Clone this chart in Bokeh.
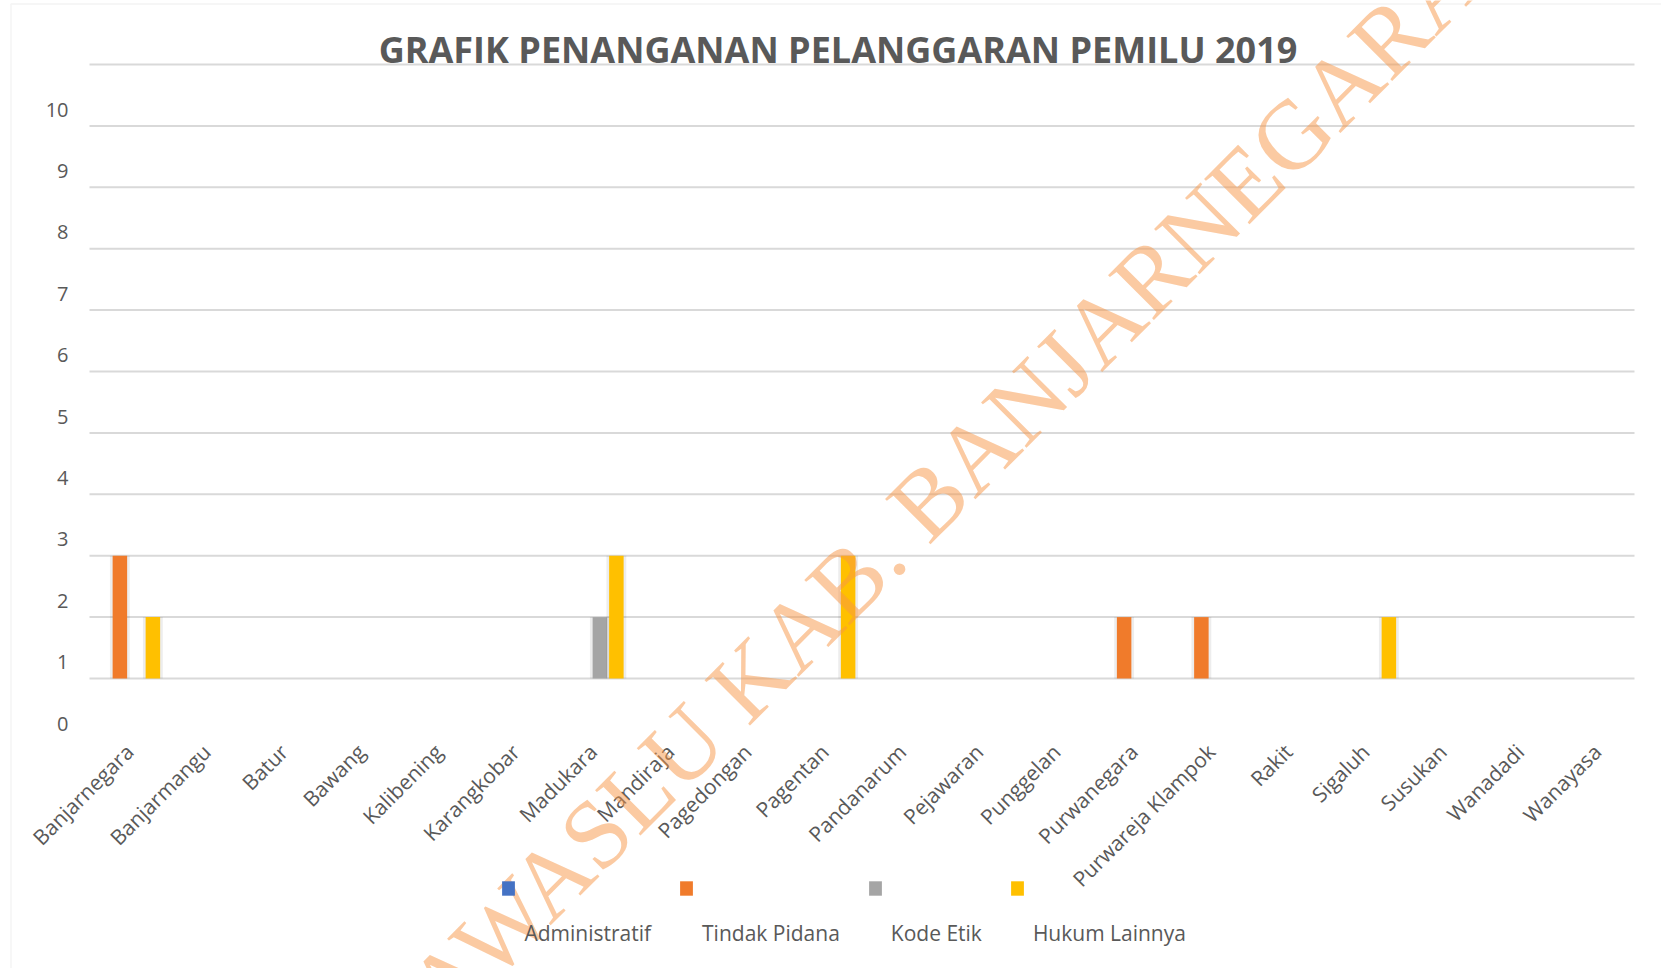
from math import pi, radians
from bokeh.plotting import figure
from bokeh.models import (ColumnDataSource, Range1d, Label, Legend, LegendItem, BoxAnnotation)
from bokeh.core.properties import value
from bokeh.transform import dodge
from bokeh.embed import file_html
from bokeh.resources import INLINE

# ---------------- data ----------------
kecamatan = ["Banjarnegara", "Banjarmangu", "Batur", "Bawang", "Kalibening", "Karangkobar",
             "Madukara", "Mandiraja", "Pagedongan", "Pagentan", "Pandanarum", "Pejawaran",
             "Punggelan", "Purwanegara", "Purwareja Klampok", "Rakit", "Sigaluh", "Susukan",
             "Wanadadi", "Wanayasa"]
series_names = ["Administratif", "Tindak Pidana", "Kode Etik", "Hukum Lainnya"]
administratif = [0, 0, 0, 0, 0, 0, 0, 0, 0, 0, 0, 0, 0, 0, 0, 0, 0, 0, 0, 0]
tindak_pidana = [2, 0, 0, 0, 0, 0, 0, 0, 0, 0, 0, 0, 0, 1, 1, 0, 0, 0, 0, 0]
kode_etik     = [0, 0, 0, 0, 0, 0, 1, 0, 0, 0, 0, 0, 0, 0, 0, 0, 0, 0, 0, 0]
hukum_lainnya = [1, 0, 0, 0, 0, 0, 2, 0, 0, 2, 0, 0, 0, 0, 0, 0, 1, 0, 0, 0]
y_ticks = [0, 1, 2, 3, 4, 5, 6, 7, 8, 9, 10]
title_text = "GRAFIK PENANGANAN PELANGGARAN PEMILU 2019"
watermark_text = "BAWASLU KAB. BANJARNEGARA"

colors = ["#4472C4", "#F07B2B", "#A5A5A5", "#FFC000"]
TXT = "#595959"

# ---------------- geometry (pixels) ----------------
W, H = 1661, 968
FL, FR = 89, 1634               # horizontal extent of the category area
G0, STEP = 678.0, 61.4          # pixel of value 0, pixels per unit
LABEL_SHIFT = 45.0 / STEP       # tick texts sit lower than their gridlines
N = len(kecamatan)
UNIT = (FR - FL) / N


def xn(px):
    return (px - FL) / UNIT


def yd(py):
    return (G0 - py) / STEP


pos = [i + 0.5 for i in range(N)]
src = ColumnDataSource(dict(kec=kecamatan, pos=pos, adm=administratif, tp=tindak_pidana,
                            ke=kode_etik, hl=hukum_lainnya))
cols = ["adm", "tp", "ke", "hl"]

p = figure(width=W, height=H, x_range=Range1d(xn(0), xn(W)), y_range=Range1d(yd(H), yd(0)),
           x_axis_type=None, y_axis_type=None,
           output_backend="svg", toolbar_location=None,
           min_border_left=0, min_border_right=0, min_border_top=0, min_border_bottom=0)
p.outline_line_color = None
p.background_fill_color = "white"
p.border_fill_color = "white"
p.xgrid.visible = False
p.ygrid.visible = False

# horizontal gridlines across the category area
p.segment(x0=[0] * len(y_ticks), x1=[N] * len(y_ticks), y0=y_ticks, y1=y_ticks,
          line_color="#D9D9D9", line_width=2)

# y tick labels (texts sit lower than their gridlines, as in the reference)
p.text(x=[xn(68)] * len(y_ticks), y=[t - LABEL_SHIFT for t in y_ticks],
       text=[str(t) for t in y_ticks], text_align="right", text_baseline="middle",
       text_font=value("Open Sans"), text_font_size="20px", text_color=TXT)

# x tick labels (rotated category names)
p.text(x=dodge("pos", -8.5 / UNIT), y=yd(737.5), text="kec", source=src, angle=pi / 4,
       text_align="right", text_baseline="top",
       text_font=value("Open Sans"), text_font_size="21px", text_color=TXT)

# bars
slot = 16.5 / UNIT
bw = 14.5 / UNIT
renderers = []
for k, (c, col) in enumerate(zip(colors, cols)):
    off = (k - 1.5) * slot
    p.vbar(x=dodge("pos", off), top=col, width=bw + 0.07,
           source=src, fill_color="black", fill_alpha=0.07, line_color=None)
    r = p.vbar(x=dodge("pos", off), top=col, width=bw,
               source=src, fill_color=c, line_color=None)
    renderers.append(r)

# legend: squares row (labels invisible, used only for spacing) + text row below
leg_common = dict(orientation="horizontal", glyph_width=16, glyph_height=18,
                  label_height=14, label_standoff=8, spacing=27, padding=0, margin=0,
                  border_line_color=None, background_fill_alpha=0,
                  label_text_font="Open Sans", label_text_font_size="21px")
leg_sq = Legend(items=[LegendItem(label=n, renderers=[r]) for n, r in zip(series_names, renderers)],
                location=(500.4, 66), label_text_alpha=0, **leg_common)
dummies = [p.vbar(x=[], top=[], width=0.1, fill_alpha=0, line_alpha=0) for _ in series_names]
leg_tx = Legend(items=[LegendItem(label=n, renderers=[r]) for n, r in zip(series_names, dummies)],
                location=(500.4, 21), label_text_color=TXT, **leg_common)
p.add_layout(leg_sq)
p.add_layout(leg_tx)

# title
p.add_layout(Label(x=xn(837.5), y=yd(49), text=title_text,
                   text_align="center", text_baseline="alphabetic",
                   text_font="Open Sans", text_font_style="bold",
                   text_font_size="36px", text_color=TXT))

# chart border
p.add_layout(BoxAnnotation(left=10.5, right=1700, top=3.5, bottom=1100,
                           left_units="canvas", right_units="canvas",
                           top_units="canvas", bottom_units="canvas",
                           fill_alpha=0, line_color="#D9D9D9", line_width=1.5))

# watermark (diagonal, semi-transparent, drawn over the chart)
WM_SIZE = 98
WM_ANGLE = radians(45.1)
WM_START = (378.0, 1051.0)      # pixel anchor of the text start (off the bottom edge)
p.add_layout(Label(x=xn(WM_START[0]), y=yd(WM_START[1]), text=watermark_text,
                   angle=WM_ANGLE, angle_units="rad", text_align="left",
                   text_baseline="alphabetic",
                   text_font="Liberation Serif", text_font_size=f"{WM_SIZE}px",
                   text_color="#F79646", text_alpha=0.5))

open("out.html", "w").write(file_html(p, INLINE))
